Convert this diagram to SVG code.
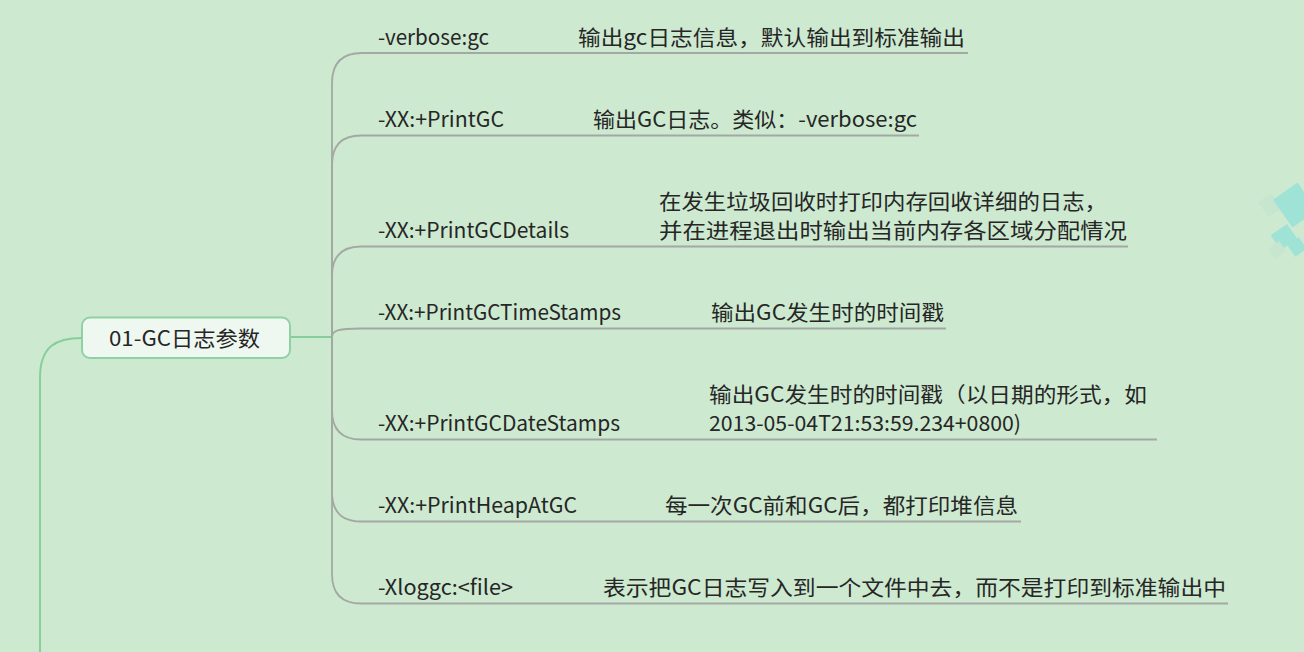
<svg xmlns="http://www.w3.org/2000/svg" width="1304" height="652" viewBox="0 0 1304 652">
<style>
.bg{fill:#cde9d0}
.c{fill:none;stroke:#a4a8a4;stroke-width:1.8}
.g{fill:none;stroke:#86cf9c;stroke-width:2}
.t{font-family:"Noto Sans CJK SC","Noto Sans",sans-serif;font-size:21px;fill:#262626}
.node{fill:#eef8f1;stroke:#8fd1a4;stroke-width:2}
.wm{fill:#9fe3d6}
.wm2{fill:#c6e6cf}
</style>
<rect class="bg" x="0" y="0" width="1304" height="652"/>
<g id="watermark">
<rect class="wm2" x="1262" y="196" width="16" height="18" transform="rotate(-35 1270 205)"/>
<rect class="wm" x="1280" y="188" width="30" height="34" transform="rotate(-35 1295 205)"/>
<rect class="wm" x="1274" y="228" width="20" height="18" transform="rotate(-35 1284 237)"/>
<rect class="wm2" x="1270" y="244" width="14" height="12" transform="rotate(-35 1277 250)"/>
<rect class="wm" x="1290" y="240" width="14" height="14" transform="rotate(-35 1297 247)"/>
</g>
<g id="connectors">
<path class="g" d="M82,338 C56,338 40,346 40,378 V652"/>
<path class="g" d="M290,337 H332"/>
<path class="c" d="M332,337 V83 Q332,53 362,53 H968"/>
<path class="c" d="M332,337 V165 Q332,135.5 361,135.5 H919"/>
<path class="c" d="M332,337 V276 Q332,246.5 361,246.5 H1128"/>
<path class="c" d="M332,337 C332,330 340,328.5 360,328.5 H946"/>
<path class="c" d="M332,337 V410 Q332,439.5 361,439.5 H1157"/>
<path class="c" d="M332,337 V492 Q332,521.5 361,521.5 H1021"/>
<path class="c" d="M332,337 V574 Q332,603.5 361,603.5 H1228"/>
</g>
<g id="root">
<rect class="node" x="82" y="317.5" width="208" height="40.5" rx="8"/>
<text class="t" x="109" y="345.5" textLength="151" lengthAdjust="spacingAndGlyphs">01-GC日志参数</text>
</g>
<g id="n1">
<text class="t" x="378" y="45" textLength="111" lengthAdjust="spacingAndGlyphs">-verbose:gc</text>
<text class="t" x="578" y="45" textLength="387" lengthAdjust="spacingAndGlyphs">输出gc日志信息，默认输出到标准输出</text>
</g>
<g id="n2">
<text class="t" x="378" y="127" textLength="126" lengthAdjust="spacingAndGlyphs">-XX:+PrintGC</text>
<text class="t" x="593" y="127" textLength="324" lengthAdjust="spacingAndGlyphs">输出GC日志。类似：-verbose:gc</text>
</g>
<g id="n3">
<text class="t" x="378" y="238" textLength="191" lengthAdjust="spacingAndGlyphs">-XX:+PrintGCDetails</text>
<text class="t" x="659" y="209" textLength="448" lengthAdjust="spacingAndGlyphs">在发生垃圾回收时打印内存回收详细的日志，</text>
<text class="t" x="659" y="238" textLength="468" lengthAdjust="spacingAndGlyphs">并在进程退出时输出当前内存各区域分配情况</text>
</g>
<g id="n4">
<text class="t" x="378" y="320" textLength="243" lengthAdjust="spacingAndGlyphs">-XX:+PrintGCTimeStamps</text>
<text class="t" x="711" y="320" textLength="233" lengthAdjust="spacingAndGlyphs">输出GC发生时的时间戳</text>
</g>
<g id="n5">
<text class="t" x="378" y="431" textLength="242" lengthAdjust="spacingAndGlyphs">-XX:+PrintGCDateStamps</text>
<text class="t" x="709" y="402" textLength="438" lengthAdjust="spacingAndGlyphs">输出GC发生时的时间戳（以日期的形式，如</text>
<text class="t" x="709" y="431" textLength="312" lengthAdjust="spacingAndGlyphs">2013-05-04T21:53:59.234+0800)</text>
</g>
<g id="n6">
<text class="t" x="378" y="513" textLength="199" lengthAdjust="spacingAndGlyphs">-XX:+PrintHeapAtGC</text>
<text class="t" x="665" y="513" textLength="353" lengthAdjust="spacingAndGlyphs">每一次GC前和GC后，都打印堆信息</text>
</g>
<g id="n7">
<text class="t" x="378" y="595" textLength="135" lengthAdjust="spacingAndGlyphs">-Xloggc:&lt;file&gt;</text>
<text class="t" x="603" y="595" textLength="623" lengthAdjust="spacingAndGlyphs">表示把GC日志写入到一个文件中去，而不是打印到标准输出中</text>
</g>
</svg>
